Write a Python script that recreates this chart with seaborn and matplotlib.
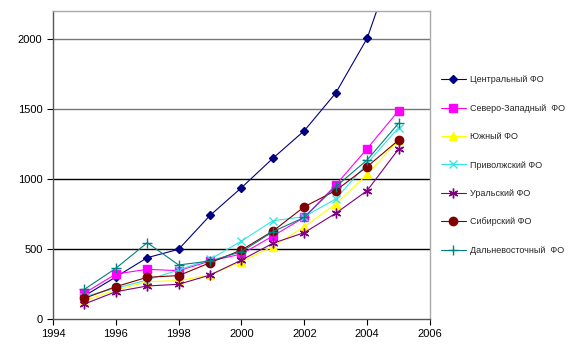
import numpy as np
import pandas as pd
import matplotlib
matplotlib.use("Agg")
import matplotlib.pyplot as plt
import seaborn as sns

# ── Data ──────────────────────────────────────────────────────────────────────
years = [1995, 1996, 1997, 1998, 1999, 2000, 2001, 2002, 2003, 2004, 2005]

regions = ["Центральный ФО", "Северо-Западный  ФО", "Южный ФО", "Приволжский ФО",
           "Уральский ФО", "Сибирский ФО", "Дальневосточный  ФО"]

central  = [165, 300, 438, 498, 740, 938, 1148, 1345, 1614, 2005, 2650]
nw       = [185, 321, 355, 345, 414, 464, 593, 726, 957, 1217, 1488]
south    = [130, 207, 267, 274, 314, 410, 517, 660, 821, 1033, 1278]
volga    = [160, 220, 279, 350, 426, 557, 702, 731, 857, 1112, 1367]
ural     = [107, 195, 236, 248, 314, 421, 541, 617, 755, 917, 1214]
siberia  = [148, 231, 298, 310, 402, 493, 628, 802, 917, 1088, 1278]
far_east = [212, 362, 545, 386, 414, 481, 624, 726, 945, 1136, 1398]

series = [central, nw, south, volga, ural, siberia, far_east]

colors  = ["#000080", "#FF00FF", "#FFFF00", "#33E6E6", "#800080", "#800000", "#008080"]
markers = ["D", "s", "^", "x", (6, 2, 0), "o", "+"]
msizes  = [4, 6, 6, 6, 7, 6, 7]

df = pd.concat(
    [pd.DataFrame({"Year": years, "Value": vals, "Region": name})
     for name, vals in zip(regions, series)],
    ignore_index=True,
)

# ── Plot ──────────────────────────────────────────────────────────────────────
sns.set_theme(style="white")
plt.rcParams["font.family"] = ["Liberation Sans", "DejaVu Sans"]

fig = plt.figure(figsize=(5.69, 3.59), dpi=100)
ax = fig.add_axes([0.0931, 0.1114, 0.6626, 0.858])

for name, col, mk, ms in zip(regions, colors, markers, msizes):
    sns.lineplot(data=df[df["Region"] == name], x="Year", y="Value", ax=ax,
                 color=col, marker=mk, markersize=ms, markeredgecolor=col,
                 markerfacecolor=col, markeredgewidth=1, linewidth=0.8,
                 label=name)

ax.set_xlim(1994, 2006)
ax.set_ylim(0, 2200)
ax.set_xticks(np.arange(1994, 2007, 2))
ax.set_yticks(np.arange(0, 2001, 500))
ax.set_xlabel("")
ax.set_ylabel("")
ax.tick_params(axis="both", labelsize=8, direction="out", length=4, width=0.8,
               colors="black", left=True, bottom=True)

for y, c in zip([500, 1000, 1500, 2000], ["black", "black", "#777777", "#777777"]):
    ax.axhline(y, color=c, linewidth=1, zorder=0)

for side in ["left", "bottom"]:
    ax.spines[side].set_color("#555555")
    ax.spines[side].set_linewidth(1)
for side in ["top", "right"]:
    ax.spines[side].set_color("#aaaaaa")
    ax.spines[side].set_linewidth(1)

handles, labels = ax.get_legend_handles_labels()
ax.legend(handles, labels, loc="upper left", bbox_to_anchor=(0.768, 0.80),
          bbox_transform=fig.transFigure, frameon=False, fontsize=6.5,
          labelspacing=2.15, handlelength=2.8, handletextpad=0.5, borderaxespad=0)

fig.savefig("out.png", dpi=100)
